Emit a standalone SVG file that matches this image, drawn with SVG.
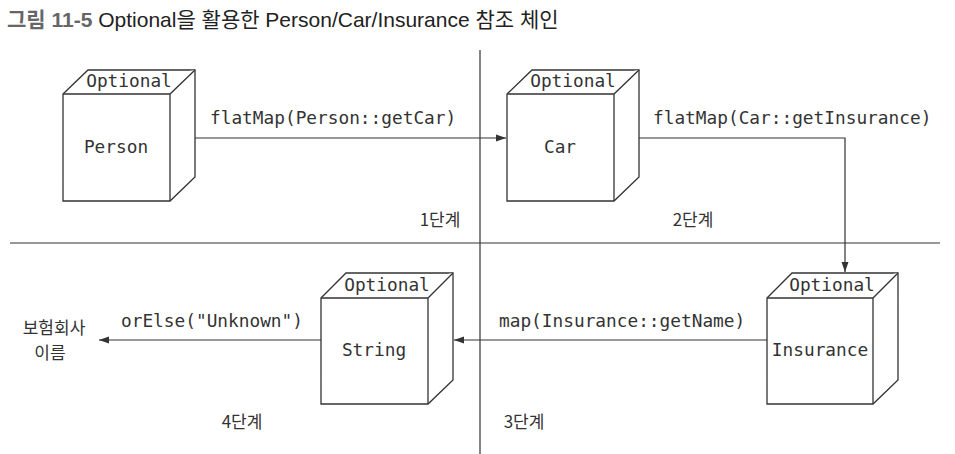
<svg xmlns="http://www.w3.org/2000/svg" width="955" height="454" viewBox="0 0 955 454">
<defs>
<style>
.cube{fill:#fff;stroke:#333;stroke-width:1.3;stroke-linejoin:miter}
.mono{font-family:"DejaVu Sans Mono","Liberation Mono",monospace;font-size:17.8px;fill:#333}
.kr{font-family:"Noto Sans CJK KR","Noto Sans",sans-serif;font-size:17px;fill:#333}
.ln{fill:none;stroke:#333;stroke-width:1.2}
.div{fill:none;stroke:#333;stroke-width:1.2}
</style>
<marker id="ah" viewBox="0 0 10 10" refX="10" refY="5" markerWidth="10" markerHeight="10" markerUnits="userSpaceOnUse" orient="auto">
<path d="M0,1.5 L10,5 L0,8.5 Z" fill="#333"/>
</marker>
</defs>
<rect width="955" height="454" fill="#fff"/>
<g id="title">
<text x="7" y="27" font-family="Liberation Sans,Noto Sans CJK KR,sans-serif" font-size="21px"><tspan font-weight="bold" fill="#666">그림 11-5</tspan><tspan fill="#222"> Optional을 활용한 Person/Car/Insurance 참조 체인</tspan></text>
</g>
<g id="dividers">
<line class="div" x1="480" y1="50" x2="480" y2="454"/>
<line class="div" x1="10" y1="243" x2="940" y2="243"/>
</g>
<g id="connectors">
<line class="ln" x1="170" y1="138" x2="506" y2="138" marker-end="url(#ah)"/>
<polyline class="ln" points="639,138 845,138 845,272" marker-end="url(#ah)"/>
<line class="ln" x1="767" y1="340" x2="454" y2="340" marker-end="url(#ah)"/>
<line class="ln" x1="321" y1="340" x2="99" y2="340" marker-end="url(#ah)"/>
<text class="mono" x="210" y="124">flatMap(Person::getCar)</text>
<text class="mono" x="653" y="124">flatMap(Car::getInsurance)</text>
<text class="mono" x="499" y="327">map(Insurance::getName)</text>
<text class="mono" x="121" y="327">orElse("Unknown")</text>
</g>
<g id="person">
<path class="cube" d="M63,94 L88,70 L195,70 L195,177 L170,201 L63,201 Z"/>
<path class="cube" d="M63,94 L170,94 L195,70 M170,94 L170,201"/>
<text class="mono" x="129" y="87" text-anchor="middle">Optional</text>
<text class="mono" x="116" y="153" text-anchor="middle">Person</text>
</g>
<g id="car">
<path class="cube" d="M507,94 L532,70 L639,70 L639,177 L614,201 L507,201 Z"/>
<path class="cube" d="M507,94 L614,94 L639,70 M614,94 L614,201"/>
<text class="mono" x="573" y="87" text-anchor="middle">Optional</text>
<text class="mono" x="560" y="153" text-anchor="middle">Car</text>
</g>
<g id="string">
<path class="cube" d="M321,298 L346,273 L453,273 L453,380 L428,404 L321,404 Z"/>
<path class="cube" d="M321,298 L428,298 L453,273 M428,298 L428,404"/>
<text class="mono" x="387" y="291" text-anchor="middle">Optional</text>
<text class="mono" x="374" y="356" text-anchor="middle">String</text>
</g>
<g id="insurance">
<path class="cube" d="M767,298 L792,273 L898,273 L898,380 L873,404 L767,404 Z"/>
<path class="cube" d="M767,298 L873,298 L898,273 M873,298 L873,404"/>
<text class="mono" x="832" y="291" text-anchor="middle">Optional</text>
<text class="mono" x="820" y="356" text-anchor="middle">Insurance</text>
</g>
<g id="result">
<text class="kr" x="54" y="334" text-anchor="middle" font-size="18px">보험회사</text>
<text class="kr" x="50" y="359" text-anchor="middle" font-size="18px">이름</text>
</g>
<g id="stages">
<text class="kr" x="440" y="226" text-anchor="middle">1단계</text>
<text class="kr" x="693" y="226" text-anchor="middle">2단계</text>
<text class="kr" x="524" y="428" text-anchor="middle">3단계</text>
<text class="kr" x="242" y="428" text-anchor="middle">4단계</text>
</g>
</svg>
